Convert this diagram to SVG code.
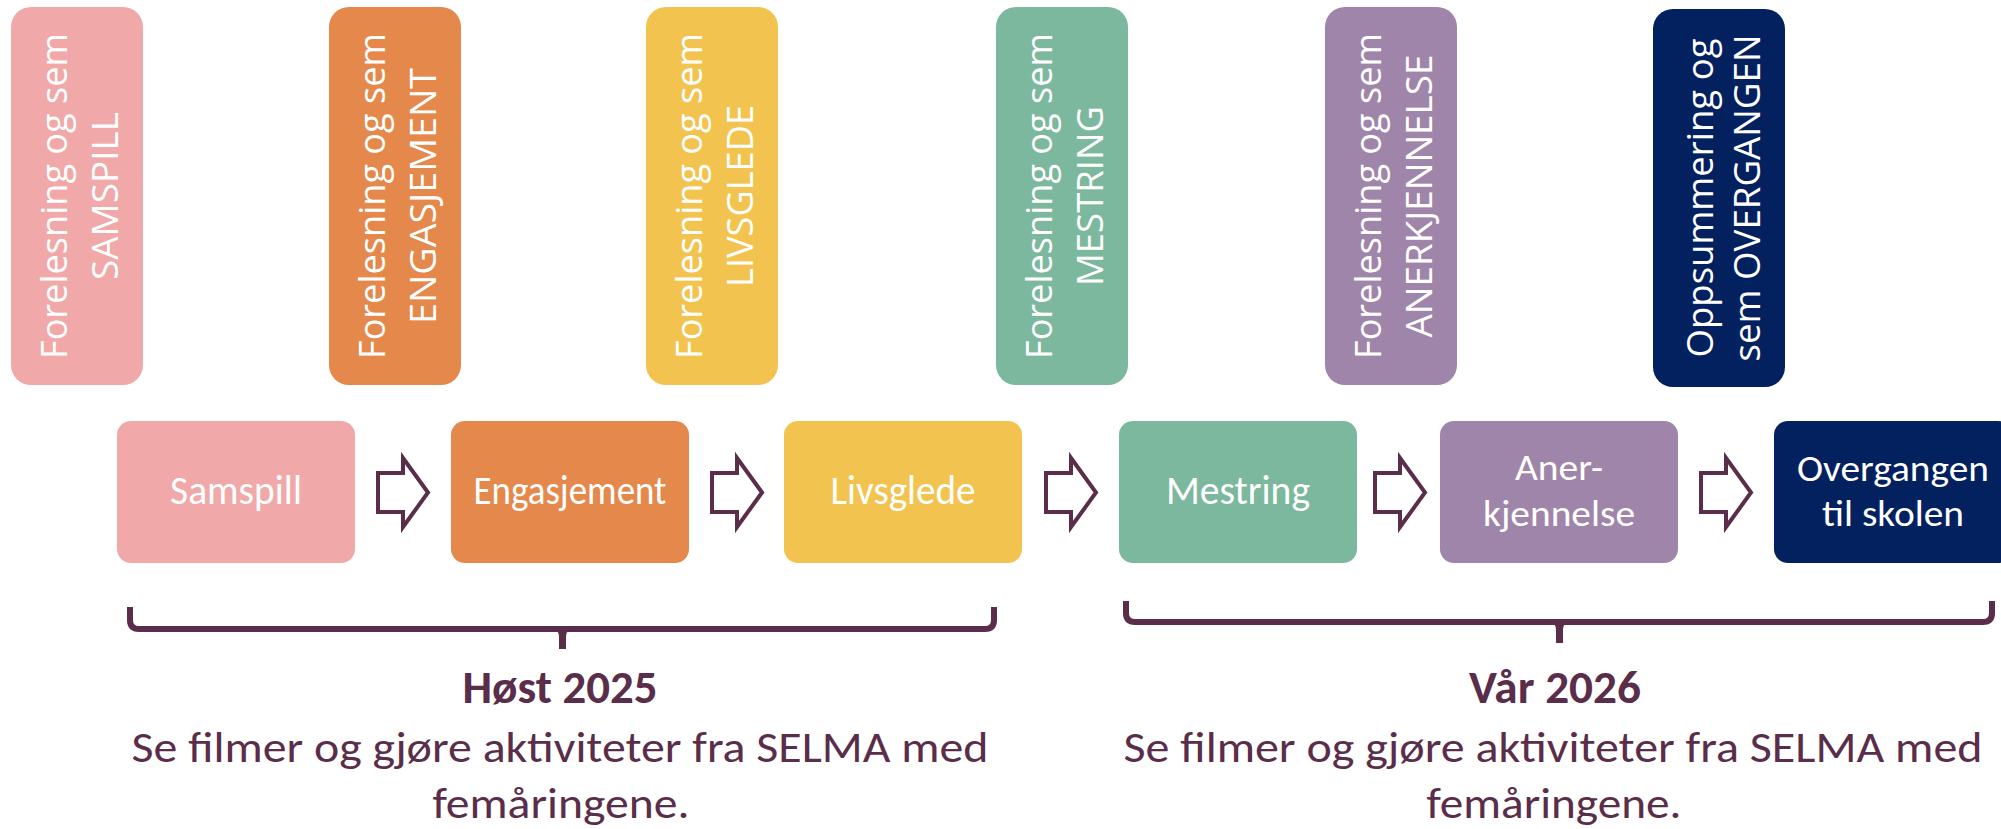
<svg xmlns="http://www.w3.org/2000/svg" width="2001" height="829" viewBox="0 0 2001 829">
<defs>
<style>
.vt{font-family:"Open Sans","Noto Sans",sans-serif;font-size:37px;fill:#ffffff;text-anchor:middle}
.bt{font-family:Carlito,Lato,"Liberation Sans",sans-serif;font-size:40px;fill:#ffffff;text-anchor:middle}
.bt2{font-family:Carlito,Lato,"Liberation Sans",sans-serif;font-size:37px;fill:#ffffff;text-anchor:middle}
.tb{stroke:none}
.bb{stroke:none}
.arrow{fill:#ffffff;stroke:#5A2D4A;stroke-width:4;stroke-linejoin:miter}
.brace{fill:none;stroke:#5A2D4A;stroke-width:6}
.stem{fill:#5A2D4A;stroke:none}
.hd{font-family:Carlito,Lato,"Liberation Sans",sans-serif;font-size:46px;font-weight:bold;fill:#5A2D4A;text-anchor:middle}
.tx{font-family:Carlito,Lato,"Liberation Sans",sans-serif;font-size:44px;fill:#5A2D4A;text-anchor:middle}
</style>
</defs>
<rect width="2001" height="829" fill="#ffffff"/>

<g id="top-samspill">
<rect class="tb" x="11" y="7" width="132" height="378" rx="20" fill="#F0A9A8"/>
<g transform="translate(77 196) rotate(-90)"><text class="vt" x="0" y="-10.5" textLength="326" lengthAdjust="spacingAndGlyphs">Forelesning og sem</text><text class="vt" x="0" y="40.5" textLength="168" lengthAdjust="spacingAndGlyphs">SAMSPILL</text></g>
</g>
<g id="top-engasjement">
<rect class="tb" x="329" y="7" width="132" height="378" rx="20" fill="#E4884B"/>
<g transform="translate(395 196) rotate(-90)"><text class="vt" x="0" y="-10.5" textLength="326" lengthAdjust="spacingAndGlyphs">Forelesning og sem</text><text class="vt" x="0" y="40.5" textLength="256" lengthAdjust="spacingAndGlyphs">ENGASJEMENT</text></g>
</g>
<g id="top-livsglede">
<rect class="tb" x="646" y="7" width="132" height="378" rx="20" fill="#F2C44F"/>
<g transform="translate(712 196) rotate(-90)"><text class="vt" x="0" y="-10.5" textLength="326" lengthAdjust="spacingAndGlyphs">Forelesning og sem</text><text class="vt" x="0" y="40.5" textLength="182" lengthAdjust="spacingAndGlyphs">LIVSGLEDE</text></g>
</g>
<g id="top-mestring">
<rect class="tb" x="996" y="7" width="132" height="378" rx="20" fill="#7BB89D"/>
<g transform="translate(1062 196) rotate(-90)"><text class="vt" x="0" y="-10.5" textLength="326" lengthAdjust="spacingAndGlyphs">Forelesning og sem</text><text class="vt" x="0" y="40.5" textLength="180" lengthAdjust="spacingAndGlyphs">MESTRING</text></g>
</g>
<g id="top-anerkjennelse">
<rect class="tb" x="1325" y="7" width="132" height="378" rx="20" fill="#A085AA"/>
<g transform="translate(1391 196) rotate(-90)"><text class="vt" x="0" y="-10.5" textLength="326" lengthAdjust="spacingAndGlyphs">Forelesning og sem</text><text class="vt" x="0" y="40.5" textLength="283" lengthAdjust="spacingAndGlyphs">ANERKJENNELSE</text></g>
</g>
<g id="top-overgangen">
<rect class="tb" x="1653" y="9" width="132" height="378" rx="20" fill="#03205F"/>
<g transform="translate(1719 198) rotate(-90)"><text class="vt" x="0" y="-6" textLength="319" lengthAdjust="spacingAndGlyphs">Oppsummering og</text><text class="vt" x="0" y="41" textLength="327" lengthAdjust="spacingAndGlyphs">sem OVERGANGEN</text></g>
</g>

<g id="samspill">
<rect class="bb" x="117" y="421" width="238" height="142" rx="14" fill="#F0A9A8"/>
<text class="bt" x="236" y="504" textLength="132" lengthAdjust="spacingAndGlyphs">Samspill</text>
</g>
<g id="engasjement">
<rect class="bb" x="451" y="421" width="238" height="142" rx="14" fill="#E4884B"/>
<text class="bt" x="570" y="504" textLength="193" lengthAdjust="spacingAndGlyphs">Engasjement</text>
</g>
<g id="livsglede">
<rect class="bb" x="784" y="421" width="238" height="142" rx="14" fill="#F2C44F"/>
<text class="bt" x="903" y="504" textLength="145" lengthAdjust="spacingAndGlyphs">Livsglede</text>
</g>
<g id="mestring">
<rect class="bb" x="1119" y="421" width="238" height="142" rx="14" fill="#7BB89D"/>
<text class="bt" x="1238" y="504" textLength="144" lengthAdjust="spacingAndGlyphs">Mestring</text>
</g>
<g id="anerkjennelse">
<rect class="bb" x="1440" y="421" width="238" height="142" rx="14" fill="#A085AA"/>
<text class="bt2" x="1559" y="480" textLength="88" lengthAdjust="spacingAndGlyphs">Aner-</text>
<text class="bt2" x="1559" y="526" textLength="152" lengthAdjust="spacingAndGlyphs">kjennelse</text>
</g>
<g id="overgangen">
<rect class="bb" x="1774" y="421" width="238" height="142" rx="14" fill="#03205F"/>
<text class="bt2" x="1893" y="481" textLength="192" lengthAdjust="spacingAndGlyphs">Overgangen</text>
<text class="bt2" x="1893" y="526" textLength="142" lengthAdjust="spacingAndGlyphs">til skolen</text>
</g>

<g id="connectors">
<path class="arrow" d="M378 473 H403 V458 L428 492.5 L403 527 V512 H378 Z"/>
<path class="arrow" d="M712 473 H737 V458 L762 492.5 L737 527 V512 H712 Z"/>
<path class="arrow" d="M1046 473 H1071 V458 L1096 492.5 L1071 527 V512 H1046 Z"/>
<path class="arrow" d="M1375 473 H1400 V458 L1425 492.5 L1400 527 V512 H1375 Z"/>
<path class="arrow" d="M1701 473 H1726 V458 L1751 492.5 L1726 527 V512 H1701 Z"/>
</g>

<g id="brace-host">
<path class="brace" d="M130 607 V620 Q130 629 139 629 H985 Q994 629 994 620 V607"/>
<path class="stem" d="M552 627 Q559 630 559 637 V649 H566 V637 Q566 630 573 627 Z"/>
<text class="hd" x="560" y="703" textLength="195" lengthAdjust="spacingAndGlyphs">Høst 2025</text>
<text class="tx" x="560" y="762" textLength="857" lengthAdjust="spacingAndGlyphs">Se filmer og gjøre aktiviteter fra SELMA med</text>
<text class="tx" x="561" y="818" textLength="257" lengthAdjust="spacingAndGlyphs">femåringene.</text>
</g>
<g id="brace-var">
<path class="brace" d="M1126 601 V613 Q1126 622 1135 622 H1983 Q1992 622 1992 613 V601"/>
<path class="stem" d="M1549 620 Q1556 623 1556 630 V643 H1563 V630 Q1563 623 1570 620 Z"/>
<text class="hd" x="1555" y="703" textLength="172" lengthAdjust="spacingAndGlyphs">Vår 2026</text>
<text class="tx" x="1553" y="762" textLength="859" lengthAdjust="spacingAndGlyphs">Se filmer og gjøre aktiviteter fra SELMA med</text>
<text class="tx" x="1554" y="818" textLength="255" lengthAdjust="spacingAndGlyphs">femåringene.</text>
</g>
</svg>
